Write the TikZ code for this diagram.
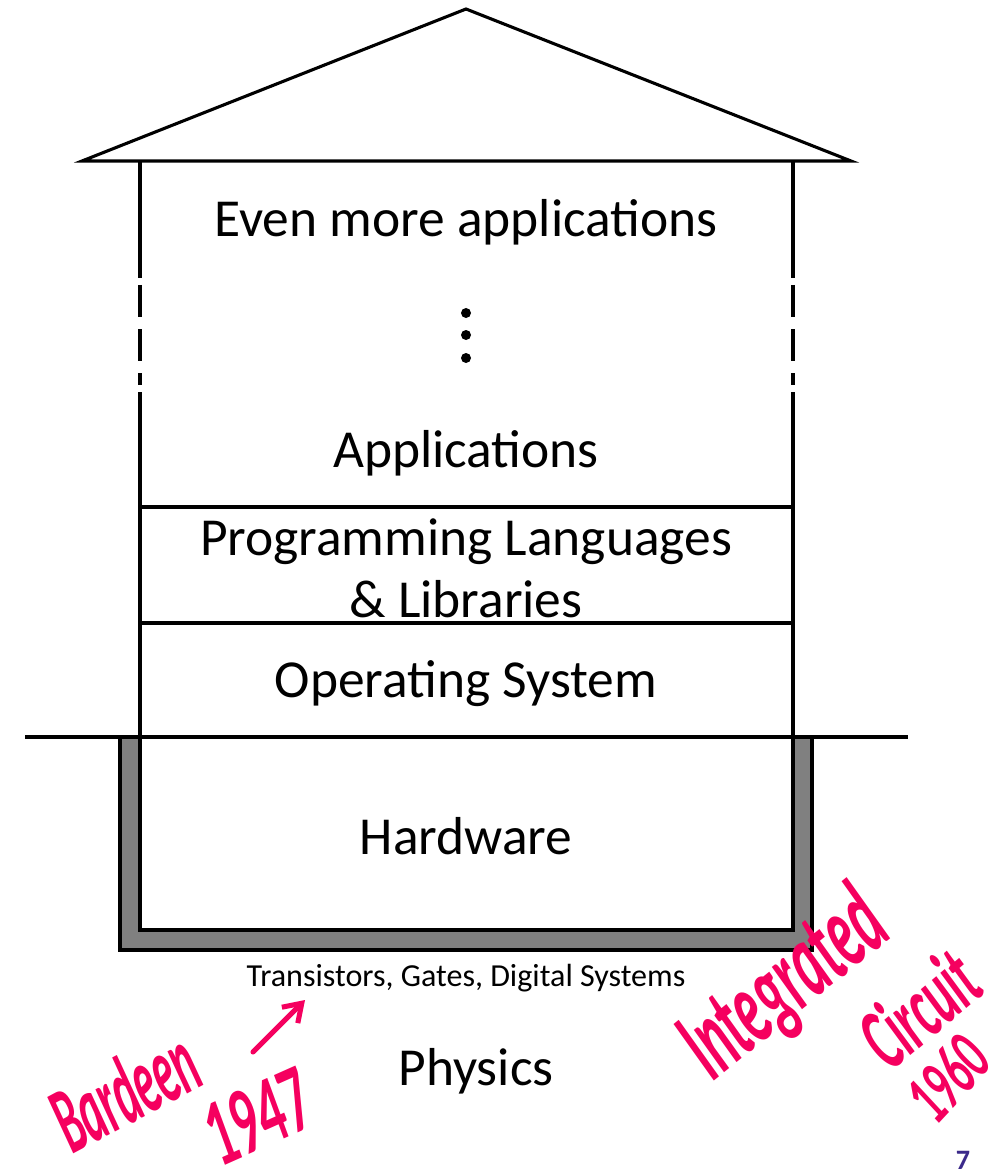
\documentclass[tikz,border=0pt]{standalone}
\usepackage{fontspec}
\setmainfont{Carlito}
\usetikzlibrary{arrows.meta}
\definecolor{inkpink}{HTML}{F5005F}
\definecolor{pagepurple}{HTML}{3B2A8A}
\definecolor{basegray}{HTML}{808080}
\tikzset{
  wall/.style={line width=2.2pt},
  layer/.style={font=\fontsize{38}{44}\selectfont, align=center},
  ink/.style={text=inkpink, font=\fontsize{40}{40}\selectfont\bfseries\itshape, inner sep=0pt},
}
\begin{document}
\begin{tikzpicture}[x=0.025cm,y=-0.025cm,>=stealth]
	\useasboundingbox (0,0) rectangle (1001,1174);
	% roof
	\draw[wall,line join=miter] (82,161)--(466,9)--(851,161)--cycle;
	% foundation
	\draw[wall,fill=basegray] (120,737)--(120,950)--(812,950)--(812,737);
	\draw[wall,fill=white] (140,737)--(140,930)--(793,930)--(793,737);
	% walls, with a broken part
	\foreach \x in {140,793}{
		\draw[wall] (\x,161)--(\x,278);
		\draw[wall] (\x,285)--(\x,317);
		\draw[wall] (\x,329)--(\x,361);
		\draw[wall] (\x,373)--(\x,385);
		\draw[wall] (\x,392)--(\x,737);
	}
	\draw[wall] (140,507)--(793,507);
	\draw[wall] (140,623)--(793,623);
	\draw[wall] (25,737)--(908,737);
	% layers
	\node[layer] (even) at (466,222) {Even more applications};
	\foreach \y in {313,335,358} \fill (466,\y) circle (5);
	\node[layer] (apps) at (466,453) {Applications};
	\node[layer] (proglang) at (466,568) {Programming Languages\\[0pt]\& Libraries};
	\node[layer] (os) at (466,684) {Operating System};
	\node[layer] (hw) at (466,836) {Hardware};
	\node[font=\fontsize{22.8}{26}\selectfont] (trans) at (466,978) {Transistors, Gates, Digital Systems};
	\node[layer] (physics) at (476,1071) {Physics};
	\node[text=pagepurple,font=\fontsize{20}{20}\selectfont\bfseries] (pagenum) at (963,1160) {7};
	% notes
	\node[ink,anchor=base west,rotate=28,xscale=.78,yscale=1.7] (bardeen) at (72,1155) {Bardeen};
	\node[ink,anchor=base west,rotate=24,xscale=.95,yscale=1.7] (year47) at (220,1168) {1947};
	\coordinate (arrowtail) at (253,1052);
	\coordinate (arrowtip) at (305,1000);
	\draw[inkpink,line width=3.6pt,line cap=round,-{Straight Barb[length=12pt,width=16pt]}] (arrowtail)--(arrowtip);
	\node[ink,anchor=base west,rotate=39,xscale=.95,yscale=1.9] (integrated) at (712,1083) {Integrated};
	\node[ink,anchor=base west,rotate=40,xscale=.85,yscale=1.6] (circuit) at (890,1073) {Circuit};
	\node[ink,anchor=base west,rotate=47,xscale=.75,yscale=1.3] (year60) at (936,1127) {1960};
\end{tikzpicture}
\end{document}
